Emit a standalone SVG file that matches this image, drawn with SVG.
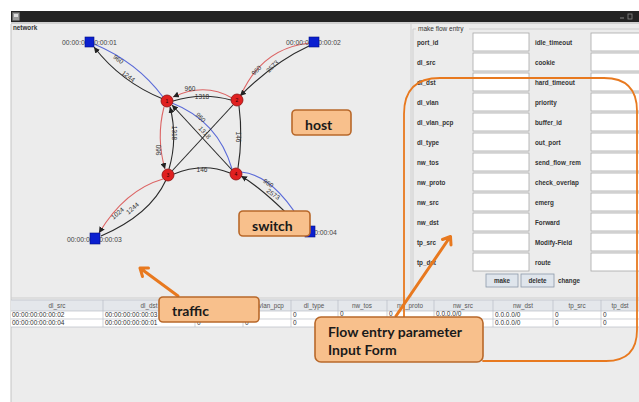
<svg xmlns="http://www.w3.org/2000/svg" width="639" height="402" viewBox="0 0 639 402">
<defs>
<style>
.sm{font-family:"Liberation Sans",Arial,sans-serif;font-size:6.5px;fill:#333}
.lb{font-family:"Liberation Sans",Arial,sans-serif;font-size:6.3px;font-weight:bold;fill:#333}
.hd{font-family:"Liberation Sans",Arial,sans-serif;font-size:6.3px;fill:#555;text-anchor:middle}
.el{font-family:"Liberation Sans",Arial,sans-serif;font-size:6.5px;fill:#333;text-anchor:middle}
.hl{font-family:"Liberation Sans",Arial,sans-serif;font-size:6.8px;fill:#444}
.fld{fill:#fff;stroke:#a8a8a8;stroke-width:0.8}
.e{fill:none;stroke-width:1.1}
.k{stroke:#2a2a2a}
.r{stroke:#dc6464}
.b{stroke:#5a6ad8}
.sw{fill:#e02020;stroke:#8a1010;stroke-width:0.8}
.hs{fill:#0a1fd0;stroke:#001080;stroke-width:0.6}
.nl{font-family:"Liberation Sans",Arial,sans-serif;font-size:5px;fill:#300;text-anchor:middle}
.co{fill:#f8c08c;stroke:#b8682a;stroke-width:1.6}
.ct{font-family:Lato,"Open Sans",sans-serif;font-weight:bold;font-size:14px;fill:#1a1a1a}
.or{fill:none;stroke:#e8791f;stroke-linecap:round;stroke-linejoin:round}
.btn{fill:#dfe5ec;stroke:#8c9aaa;stroke-width:0.8}
.grid{stroke:#b9bdc5;stroke-width:0.7}
</style>
<marker id="ah" viewBox="0 0 10 10" refX="10" refY="5" markerWidth="6" markerHeight="6" markerUnits="userSpaceOnUse" orient="auto"><path d="M0,0 L10,5 L0,10 z" fill="#222"/></marker>
</defs>

<!-- window -->
<rect x="0" y="0" width="639" height="402" fill="#ffffff"/>
<rect x="11" y="11" width="628" height="391" fill="#ececec"/>
<rect x="11" y="11" width="628" height="11" fill="#232323"/>
<rect x="11" y="22" width="628" height="2" fill="#d0d0d0"/>
<rect x="12.5" y="12.5" width="7" height="8" fill="#9a9a9a" stroke="#666" stroke-width="0.5"/>
<rect x="14" y="14" width="4" height="3" fill="#ddd"/>
<line x1="620" y1="18" x2="624" y2="18" stroke="#888" stroke-width="1"/>
<rect x="628" y="14" width="4" height="5" fill="none" stroke="#888" stroke-width="0.8"/>

<!-- panels -->
<text class="lb" x="13" y="30">network</text>
<line x1="11" y1="24" x2="11" y2="402" stroke="#c4c4c4" stroke-width="1"/>
<line x1="411" y1="24" x2="411" y2="298" stroke="#d0d0d0" stroke-width="1"/>
<line x1="11" y1="298" x2="639" y2="298" stroke="#cfcfcf" stroke-width="1"/>

<!-- form panel -->
<g id="form">
<path d="M413,292 L413,29 L416,29 M469,29 L639,29" fill="none" stroke="#c8c8c8" stroke-width="0.8"/>
<text class="sm" x="418" y="31">make flow entry</text>
<g id="col1">
<text class="lb" x="417" y="45">port_id</text><rect class="fld" x="473" y="33" width="56" height="18"/>
<text class="lb" x="417" y="65">dl_src</text><rect class="fld" x="473" y="53" width="56" height="18"/>
<text class="lb" x="417" y="85">dl_dst</text><rect class="fld" x="473" y="73" width="56" height="18"/>
<text class="lb" x="417" y="105">dl_vlan</text><rect class="fld" x="473" y="93" width="56" height="18"/>
<text class="lb" x="417" y="125">dl_vlan_pcp</text><rect class="fld" x="473" y="113" width="56" height="18"/>
<text class="lb" x="417" y="145">dl_type</text><rect class="fld" x="473" y="133" width="56" height="18"/>
<text class="lb" x="417" y="165">nw_tos</text><rect class="fld" x="473" y="153" width="56" height="18"/>
<text class="lb" x="417" y="185">nw_proto</text><rect class="fld" x="473" y="173" width="56" height="18"/>
<text class="lb" x="417" y="205">nw_src</text><rect class="fld" x="473" y="193" width="56" height="18"/>
<text class="lb" x="417" y="225">nw_dst</text><rect class="fld" x="473" y="213" width="56" height="18"/>
<text class="lb" x="417" y="245">tp_src</text><rect class="fld" x="473" y="233" width="56" height="18"/>
<text class="lb" x="417" y="265">tp_dst</text><rect class="fld" x="473" y="253" width="56" height="18"/>
</g>
<g id="col2">
<text class="lb" x="535" y="45">idle_timeout</text><rect class="fld" x="591" y="33" width="56" height="18"/>
<text class="lb" x="535" y="65">cookie</text><rect class="fld" x="591" y="53" width="56" height="18"/>
<text class="lb" x="535" y="85">hard_timeout</text><rect class="fld" x="591" y="73" width="56" height="18"/>
<text class="lb" x="535" y="105">priority</text><rect class="fld" x="591" y="93" width="56" height="18"/>
<text class="lb" x="535" y="125">buffer_id</text><rect class="fld" x="591" y="113" width="56" height="18"/>
<text class="lb" x="535" y="145">out_port</text><rect class="fld" x="591" y="133" width="56" height="18"/>
<text class="lb" x="535" y="165">send_flow_rem</text><rect class="fld" x="591" y="153" width="56" height="18"/>
<text class="lb" x="535" y="185">check_overlap</text><rect class="fld" x="591" y="173" width="56" height="18"/>
<text class="lb" x="535" y="205">emerg</text><rect class="fld" x="591" y="193" width="56" height="18"/>
<text class="lb" x="535" y="225">Forward</text><rect class="fld" x="591" y="213" width="56" height="18"/>
<text class="lb" x="535" y="245">Modify-Field</text><rect class="fld" x="591" y="233" width="56" height="18"/>
<text class="lb" x="535" y="265">route</text><rect class="fld" x="591" y="253" width="56" height="18"/>
</g>
<g id="buttons">
<rect class="btn" x="486" y="274" width="32" height="13"/>
<text class="lb" x="502" y="283" text-anchor="middle">make</text>
<rect class="btn" x="521" y="274" width="33" height="13"/>
<text class="lb" x="537.5" y="283" text-anchor="middle">delete</text>
<text class="lb" x="558" y="283">change</text>
</g>
</g>

<!-- table -->
<g id="table">
<rect x="11" y="300" width="628" height="11" fill="#e4e7eb"/>
<rect x="11" y="311" width="628" height="16" fill="#ffffff"/>
<line class="grid" x1="11" y1="300" x2="639" y2="300"/>
<line class="grid" x1="11" y1="311" x2="639" y2="311"/>
<line class="grid" x1="11" y1="319" x2="639" y2="319"/>
<line class="grid" x1="11" y1="327" x2="639" y2="327"/>
<g class="grid">
<line x1="103" y1="300" x2="103" y2="327"/><line x1="195" y1="300" x2="195" y2="327"/>
<line x1="243" y1="300" x2="243" y2="327"/><line x1="291" y1="300" x2="291" y2="327"/>
<line x1="338" y1="300" x2="338" y2="327"/><line x1="387" y1="300" x2="387" y2="327"/>
<line x1="434" y1="300" x2="434" y2="327"/><line x1="493" y1="300" x2="493" y2="327"/>
<line x1="553" y1="300" x2="553" y2="327"/><line x1="601" y1="300" x2="601" y2="327"/>
</g>
<text class="hd" x="57" y="308">dl_src</text>
<text class="hd" x="149" y="308">dl_dst</text>
<text class="hd" x="267" y="308">dl_vlan_pcp</text>
<text class="hd" x="314" y="308">dl_type</text>
<text class="hd" x="362" y="308">nw_tos</text>
<text class="hd" x="410" y="308">nw_proto</text>
<text class="hd" x="463" y="308">nw_src</text>
<text class="hd" x="523" y="308">nw_dst</text>
<text class="hd" x="577" y="308">tp_src</text>
<text class="hd" x="620" y="308">tp_dst</text>
<g class="sm">
<text x="12" y="316.5">00:00:00:00:00:02</text><text x="105" y="316.5">00:00:00:00:00:03</text>
<text x="293" y="316.5">0</text>
<text x="340" y="316">0</text><text x="389" y="316">0</text><text x="436" y="316">0.0.0.0/0</text>
<text x="495" y="316.5">0.0.0.0/0</text><text x="555" y="316.5">0</text><text x="603" y="316.5">0</text>
<text x="12" y="324.5">00:00:00:00:00:04</text><text x="105" y="324.5">00:00:00:00:00:01</text>
<text x="197" y="324.5">0</text><text x="245" y="324.5">0</text><text x="293" y="324.5">0</text>
<text x="495" y="324.5">0.0.0.0/0</text><text x="555" y="324.5">0</text><text x="603" y="324.5">0</text>
</g>
</g>

<!-- connectors -->
<g id="connectors">
<path class="e b" d="M94,44 Q137,62 163,97"/>
<path class="e k" d="M163,99 Q121,82 94,47" marker-end="url(#ah)"/>
<path class="e r" d="M232,98 Q205,82 173,97" marker-end="url(#ah)"/>
<path class="e k" d="M173,101 Q202,92 231,100"/>
<path class="e r" d="M164,107 Q156,138 165,169" marker-end="url(#ah)"/>
<path class="e k" d="M169,169 Q178,138 170,107" marker-end="url(#ah)"/>
<path class="e b" d="M232,169 Q218,121 172,103"/>
<path class="e k" d="M232,170 L172,105" marker-end="url(#ah)"/>
<path class="e k" d="M233,105 L172,171"/>
<path class="e k" d="M239,106 Q243,137 238,168"/>
<path class="e k" d="M174,174 Q203,162 230,173"/>
<path class="e r" d="M310,43 Q262,48 241,95"/>
<path class="e k" d="M309,46 Q274,62 240,96" marker-end="url(#ah)"/>
<path class="e r" d="M163,179 Q125,190 99,233" marker-end="url(#ah)"/>
<path class="e k" d="M166,180 Q150,215 101,236"/>
<path class="e b" d="M305,229 Q275,175 241,172"/>
<path class="e k" d="M303,230 Q265,190 241,176" marker-end="url(#ah)"/>
<g class="el">
<text transform="translate(117,61) rotate(37)">960</text>
<text transform="translate(127,78) rotate(37)">1244</text>
<text x="190" y="91">960</text>
<text x="202" y="99">1318</text>
<text transform="translate(161,150) rotate(-90)">960</text>
<text transform="translate(172,133) rotate(90)">1318</text>
<text transform="translate(199,119) rotate(47)">960</text>
<text transform="translate(203,134) rotate(47)">1318</text>
<text transform="translate(236,137) rotate(90)">146</text>
<text x="202" y="172">146</text>
<text transform="translate(258,72) rotate(-45)">960</text>
<text transform="translate(274,68) rotate(-45)">2573</text>
<text transform="translate(119,215) rotate(-40)">1024</text>
<text transform="translate(134,210) rotate(-40)">1244</text>
<text transform="translate(267,185) rotate(35)">960</text>
<text transform="translate(272,196) rotate(35)">2573</text>
</g>
</g>

<!-- hosts -->
<g id="h1"><text class="hl" x="62" y="44.5">00:00:00:00:00:01</text><rect class="hs" x="85" y="37" width="9" height="10"/></g>
<g id="h2"><text class="hl" x="286" y="44.5">00:00:00:00:00:02</text><rect class="hs" x="309" y="37" width="10" height="10"/></g>
<g id="h3"><text class="hl" x="67" y="241.5">00:00:00:00:00:03</text><rect class="hs" x="90" y="233" width="10" height="11"/></g>
<g id="h4"><text class="hl" x="282" y="234.5">00:00:00:00:00:04</text><rect class="hs" x="305" y="226" width="10" height="11"/></g>

<!-- switches -->
<g id="s1"><circle class="sw" cx="167" cy="101" r="6"/><text class="nl" x="167" y="103">1</text></g>
<g id="s2"><circle class="sw" cx="237" cy="100" r="6"/><text class="nl" x="237" y="102">2</text></g>
<g id="s3"><circle class="sw" cx="168" cy="175" r="6"/><text class="nl" x="168" y="177">3</text></g>
<g id="s4"><circle class="sw" cx="236" cy="174" r="6"/><text class="nl" x="236" y="176">4</text></g>

<!-- annotations -->
<g id="outline"><path class="or" stroke-width="1.8" d="M404,318 L404,114 Q404,78 440,78 L604,78 Q637,78 637,111 L637,330 Q637,361 606,361 L483,361"/></g>
<g id="arrow-traffic"><path class="or" stroke-width="3" d="M178,296 L140,268 M142.5,276.5 L140,268 L148.5,268"/></g>
<g id="arrow-form"><path class="or" stroke-width="3" d="M396,316 L450,237 M442.5,239.5 L450.5,236.5 L451,245"/></g>
<g id="c-host"><rect class="co" x="292" y="110" width="59" height="25" rx="4"/><text class="ct" x="305" y="130">host</text></g>
<g id="c-switch"><rect class="co" x="239" y="211" width="71" height="25" rx="4"/><text class="ct" x="252" y="231">switch</text></g>
<g id="c-traffic"><rect class="co" x="159" y="297" width="100" height="25" rx="4"/><text class="ct" x="172" y="316">traffic</text></g>
<g id="c-form"><rect class="co" x="315" y="317" width="168" height="45" rx="6"/><text class="ct" x="328" y="337">Flow entry parameter</text><text class="ct" x="328" y="355">Input Form</text></g>
</svg>
